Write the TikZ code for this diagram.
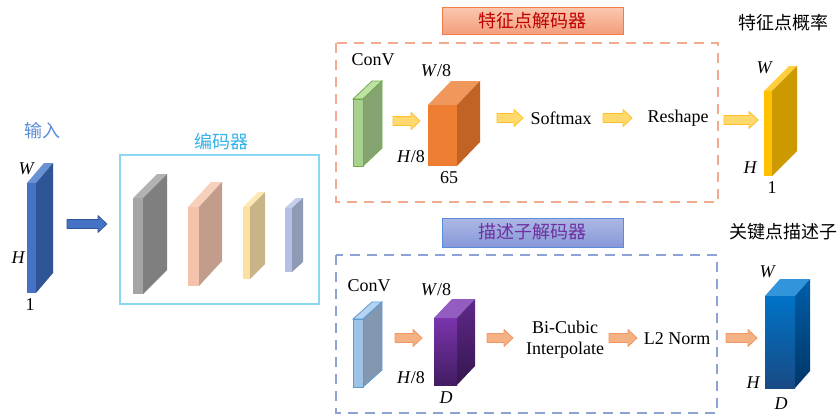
\documentclass[tikz,border=0pt]{standalone}
\usepackage{fontspec}
\setmainfont{Liberation Serif}
\newfontfamily\cjk{Noto Sans CJK SC}

% colours
\definecolor{inblue}{RGB}{68,114,196}
\definecolor{inblueD}{RGB}{47,85,151}
\definecolor{inblueT}{RGB}{105,145,212}
\definecolor{lblblue}{RGB}{91,140,215}
\definecolor{enccyan}{RGB}{140,215,240}
\definecolor{enctext}{RGB}{50,178,235}
\definecolor{kpred}{RGB}{192,0,0}
\definecolor{dspurple}{RGB}{112,48,160}

% thin slab / cuboid: x, y(top of front face), width, height, depth-x, depth-y,
% front style, side style, top style
\newcommand\slab[9]{%
  \path[#9] (#1,#2) -- ++(#5,-#6) -- ++(#3,0) -- ++(-#5,#6) -- cycle;
  \path[#8] (#1+#3,#2) -- ++(#5,-#6) -- ++(0,#4) -- ++(-#5,#6) -- cycle;
  \path[#7] (#1,#2) rectangle ++(#3,#4);
}
% block arrow: style, x start, x tip, y
\newcommand\blockarrow[4]{%
  \draw[#1] (#2,#4-4.5) -- (#3-9,#4-4.5) -- (#3-9,#4-8.5) -- (#3,#4)
    -- (#3-9,#4+8.5) -- (#3-9,#4+4.5) -- (#2,#4+4.5) -- cycle;
}

\begin{document}
\begin{tikzpicture}[x=1pt,y=-1pt,
  lbl/.style={font=\fontsize{18}{21}\selectfont, inner sep=0},
  ital/.style={font=\fontsize{18}{21}\selectfont\itshape, inner sep=0},
  cjkl/.style={font=\cjk\fontsize{18}{21}\selectfont, inner sep=0},
  yarrow/.style={fill={rgb,255:red,255;green,217;blue,110}, draw={rgb,255:red,255;green,192;blue,40}, line width=0.8pt, line join=round},
  oarrow/.style={fill={rgb,255:red,244;green,177;blue,131}, draw={rgb,255:red,242;green,150;blue,100}, line width=0.8pt, line join=round},
  barrow/.style={fill=inblue, draw=inblueD, line width=0.6pt, line join=round},
  dashbox/.style={line width=2.4pt, dash pattern=on 10pt off 7pt},
  header/.style={line width=1pt, minimum width=181pt, inner sep=0},
]
\useasboundingbox (0,0) rectangle (840,415);

% ---------------- input ----------------
\slab{27}{183}{9}{110}{17}{20}{fill=inblue}{fill=inblueD}{fill=inblueT}
\coordinate (input) at (36,238);
\node[cjkl, text=lblblue] (inlbl) at (42,131) {输入};
\node[ital] (inW) at (26,169) {W};
\node[ital] (inH) at (18,258) {H};
\node[lbl] (in1) at (30,305) {1};

\blockarrow{barrow}{67}{107}{224}

% ---------------- encoder ----------------
\node[draw=enccyan, line width=2pt, minimum width=199pt, minimum height=149pt, inner sep=0]
  (encoder) at (219.5,229.5) {};
\node[cjkl, text=enctext] (enclbl) at (221,142) {编码器};
\slab{133}{198}{10}{96}{24}{24}{fill={rgb,255:red,165;green,165;blue,165}}{fill={rgb,255:red,127;green,127;blue,127}}{fill={rgb,255:red,178;green,178;blue,178}}
\slab{188}{207}{11}{79}{23}{25}{fill={rgb,255:red,244;green,195;blue,172}}{fill={rgb,255:red,194;green,157;blue,139}}{fill={rgb,255:red,247;green,208;blue,188}}
\slab{243}{207}{7}{72}{15}{15}{fill={rgb,255:red,253;green,224;blue,160}}{fill={rgb,255:red,201;green,180;blue,136}}{fill={rgb,255:red,254;green,232;blue,180}}
\slab{285}{208}{7}{64}{11}{10}{fill={rgb,255:red,180;green,192;blue,228}}{fill={rgb,255:red,143;green,154;blue,180}}{fill={rgb,255:red,196;green,206;blue,236}}

% ---------------- keypoint decoder ----------------
\node[header, minimum height=27pt, draw={rgb,255:red,240;green,125;blue,70},
  top color={rgb,255:red,249;green,200;blue,176}, bottom color={rgb,255:red,243;green,158;blue,124}]
  (kphead) at (532.5,20.5) {};
\node[cjkl, text=kpred] (kptitle) at (532,21) {特征点解码器};
\draw[dashbox, draw={rgb,255:red,244;green,170;blue,145}] (336,43) rectangle (718,202);
\coordinate (kpbox) at (527,122);

\node[lbl] (conv1) at (373,60) {ConV};
\slab{353}{99}{10}{67}{19}{18}%
  {fill={rgb,255:red,169;green,209;blue,142}, draw={rgb,255:red,112;green,173;blue,71}, line width=0.8pt}%
  {fill={rgb,255:red,134;green,164;blue,114}, draw={rgb,255:red,112;green,173;blue,71}, line width=0.8pt}%
  {fill={rgb,255:red,190;green,225;blue,165}, draw={rgb,255:red,112;green,173;blue,71}, line width=0.8pt}
\blockarrow{yarrow}{393}{420}{121}

\slab{428}{105}{29}{61}{23}{24}{fill={rgb,255:red,237;green,125;blue,49}}{fill={rgb,255:red,194;green,99;blue,38}}{fill={rgb,255:red,240;green,152;blue,92}}
\node[lbl] (kpW) at (436,71) {\textit{W}/8};
\node[lbl] (kpH) at (411,157) {\textit{H}/8};
\node[lbl] (kp65) at (449,178) {65};

\blockarrow{yarrow}{497}{523}{118}
\node[lbl] (softmax) at (561,118) {Softmax};
\blockarrow{yarrow}{603}{632}{118}
\node[lbl] (reshape) at (678,118) {Reshape};
\blockarrow{yarrow}{724}{758}{120}

\slab{764}{91}{8}{85}{25}{25}{fill={rgb,255:red,255;green,192;blue,0}}{fill={rgb,255:red,204;green,153;blue,0}}{fill={rgb,255:red,255;green,206;blue,60}}
\node[cjkl] (kpout) at (783,23) {特征点概率};
\node[ital] (oW) at (764,68) {W};
\node[ital] (oH) at (750,168) {H};
\node[lbl] (o1) at (772,188) {1};

% ---------------- descriptor decoder ----------------
\node[header, minimum height=29pt, draw={rgb,255:red,91;green,140;blue,220},
  top color={rgb,255:red,172;green,184;blue,229}, bottom color={rgb,255:red,135;green,152;blue,216}]
  (dshead) at (532.5,232.5) {};
\node[cjkl, text=dspurple] (dstitle) at (532,232) {描述子解码器};
\draw[dashbox, draw={rgb,255:red,142;green,162;blue,214}] (336,255) rectangle (717,413);

\node[lbl] (conv2) at (369,286) {ConV};
\slab{353}{319}{10}{68}{19}{17}%
  {fill={rgb,255:red,157;green,195;blue,230}, draw={rgb,255:red,91;green,155;blue,213}, line width=0.8pt}%
  {fill={rgb,255:red,132;green,151;blue,176}, draw={rgb,255:red,91;green,155;blue,213}, line width=0.8pt}%
  {fill={rgb,255:red,180;green,212;blue,240}, draw={rgb,255:red,91;green,155;blue,213}, line width=0.8pt}
\blockarrow{oarrow}{395}{422}{338}

\slab{434}{318}{23}{67}{18}{19}%
  {top color={rgb,255:red,122;green,52;blue,172}, bottom color={rgb,255:red,66;green,28;blue,98}}%
  {top color={rgb,255:red,96;green,40;blue,138}, bottom color={rgb,255:red,52;green,22;blue,78}}%
  {fill={rgb,255:red,146;green,92;blue,192}}
\node[lbl] (dsW) at (436,290) {\textit{W}/8};
\node[lbl] (dsH) at (411,378) {\textit{H}/8};
\node[ital] (dsD) at (446,398) {D};

\blockarrow{oarrow}{487}{513}{338}
\node[lbl, align=center] (bicubic) at (565,340) {Bi-Cubic\\Interpolate};
\blockarrow{oarrow}{609}{637}{338}
\node[lbl] (l2) at (677,339) {L2 Norm};
\blockarrow{oarrow}{726}{757}{338}

\slab{765}{296}{30}{92}{15}{17}%
  {top color={rgb,255:red,0;green,115;blue,200}, bottom color={rgb,255:red,24;green,74;blue,132}}%
  {top color={rgb,255:red,0;green,94;blue,168}, bottom color={rgb,255:red,0;green,54;blue,104}}%
  {fill={rgb,255:red,50;green,148;blue,218}}
\node[cjkl] (dsout) at (783,232) {关键点描述子};
\node[ital] (dW) at (767,272) {W};
\node[ital] (dH) at (753,383) {H};
\node[ital] (dD) at (781,404) {D};
\end{tikzpicture}
\end{document}
